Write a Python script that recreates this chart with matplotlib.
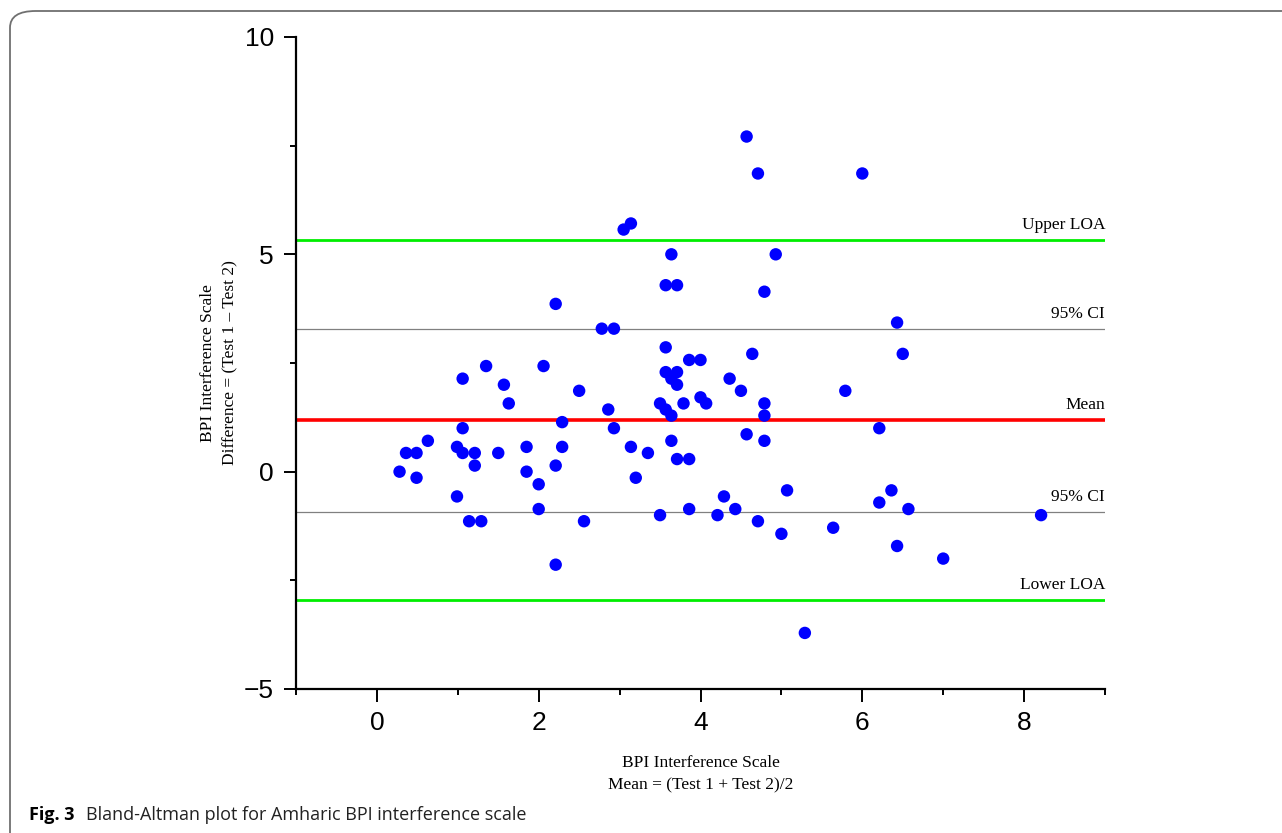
import matplotlib.pyplot as plt
from matplotlib.patches import FancyBboxPatch
from matplotlib.ticker import MultipleLocator

# ===============================
# Data
# ===============================

mean_scores = [0.28, 0.36, 0.49, 0.49, 0.63, 0.99, 0.99, 1.06, 1.06, 1.06,
               1.14, 1.21, 1.21, 1.29, 1.35, 1.50, 1.57, 1.63, 1.85, 1.85,
               2.00, 2.00, 2.06, 2.21, 2.21, 2.21, 2.29, 2.29, 2.50, 2.56,
               2.78, 2.86, 2.93, 2.93, 3.05, 3.14, 3.14, 3.20, 3.35, 3.50,
               3.50, 3.57, 3.57, 3.57, 3.57, 3.64, 3.64, 3.64, 3.64, 3.71,
               3.71, 3.71, 3.71, 3.79, 3.86, 3.86, 3.86, 4.00, 4.00, 4.07,
               4.21, 4.29, 4.36, 4.43, 4.50, 4.57, 4.57, 4.64, 4.71, 4.71,
               4.79, 4.79, 4.79, 4.79, 4.93, 5.00, 5.07, 5.29, 5.64, 5.79,
               6.00, 6.21, 6.21, 6.36, 6.43, 6.43, 6.50, 6.57, 7.00, 8.21]

diff_scores = [0.00, 0.43, 0.43, -0.14, 0.71, 0.57, -0.57, 1.00, 2.14, 0.43,
               -1.14, 0.43, 0.14, -1.14, 2.43, 0.43, 2.00, 1.57, 0.57, 0.00,
               -0.29, -0.86, 2.43, 3.86, 0.14, -2.14, 0.57, 1.14, 1.86, -1.14,
               3.29, 1.43, 3.29, 1.00, 5.57, 5.71, 0.57, -0.14, 0.43, 1.57,
               -1.00, 2.86, 2.29, 4.29, 1.43, 5.00, 2.14, 1.29, 0.71, 4.29,
               2.00, 2.29, 0.29, 1.57, 2.57, 0.29, -0.86, 2.57, 1.71, 1.57,
               -1.00, -0.57, 2.14, -0.86, 1.86, 0.86, 7.71, 2.71, 6.86, -1.14,
               4.14, 1.57, 1.29, 0.71, 5.00, -1.43, -0.43, -3.71, -1.29, 1.86,
               6.86, 1.00, -0.71, -0.43, 3.43, -1.71, 2.71, -0.86, -2.00, -1.00]

line_names = ["Upper LOA", "95% CI", "Mean", "95% CI", "Lower LOA"]
line_values = [5.32, 3.29, 1.19, -0.92, -2.96]
line_colors = ["#00ee00", "#808080", "#ff0000", "#808080", "#00ee00"]
line_widths = [2.0, 0.9, 2.6, 0.9, 2.0]

# ===============================
# Figure
# ===============================

fig = plt.figure(figsize=(12.82, 8.33), dpi=100)

# rounded frame around the figure
frame = FancyBboxPatch((10 / 1282, -0.05), 1.2, 1.05 - 11 / 833,
                       boxstyle="round,pad=0,rounding_size=0.02",
                       transform=fig.transFigure, fill=False,
                       edgecolor="#707070", linewidth=1.3, zorder=0)
fig.patches.append(frame)

ax = fig.add_axes([296 / 1282, 144 / 833, 809 / 1282, 652 / 833])

for name, val, col, lw in zip(line_names, line_values, line_colors, line_widths):
    ax.axhline(val, color=col, linewidth=lw, zorder=1)
    ax.annotate(name, xy=(9, val), xytext=(0, 5), textcoords="offset points",
                ha="right", va="bottom", fontsize=12.5, family="Liberation Serif")

ax.scatter(mean_scores, diff_scores, s=80, color="#0000ff", edgecolors="none", zorder=3)

ax.set_xlim(-1, 9)
ax.set_ylim(-5, 10)
ax.xaxis.set_major_locator(MultipleLocator(2))
ax.xaxis.set_minor_locator(MultipleLocator(1))
ax.yaxis.set_major_locator(MultipleLocator(5))
ax.yaxis.set_minor_locator(MultipleLocator(2.5))

ax.spines["top"].set_visible(False)
ax.spines["right"].set_visible(False)
ax.spines["left"].set_linewidth(1.6)
ax.spines["bottom"].set_linewidth(1.6)

ax.tick_params(which="major", length=9, width=1.4, direction="out", labelsize=19, pad=7)
ax.tick_params(which="minor", length=4.5, width=1.4, direction="out")
for lab in ax.get_xticklabels() + ax.get_yticklabels():
    lab.set_family("Liberation Sans")

ax.set_xlabel("BPI Interference Scale\nMean = (Test 1 + Test 2)/2",
              fontsize=12.5, family="Liberation Serif", labelpad=14, linespacing=1.55)
ax.set_ylabel("BPI Interference Scale\nDifference = (Test 1 \u2013 Test 2)",
              fontsize=12.5, family="Liberation Serif", labelpad=4, linespacing=1.55)

# caption
fig.text(29 / 1282, 1 - 815 / 833, "Fig. 3", fontsize=13, fontweight="bold",
         family="Open Sans", va="center", ha="left")
fig.text(86 / 1282, 1 - 815 / 833, "Bland-Altman plot for Amharic BPI interference scale",
         fontsize=13, family="Open Sans", va="center", ha="left", color="#222222")

plt.savefig("out.png", dpi=100)
